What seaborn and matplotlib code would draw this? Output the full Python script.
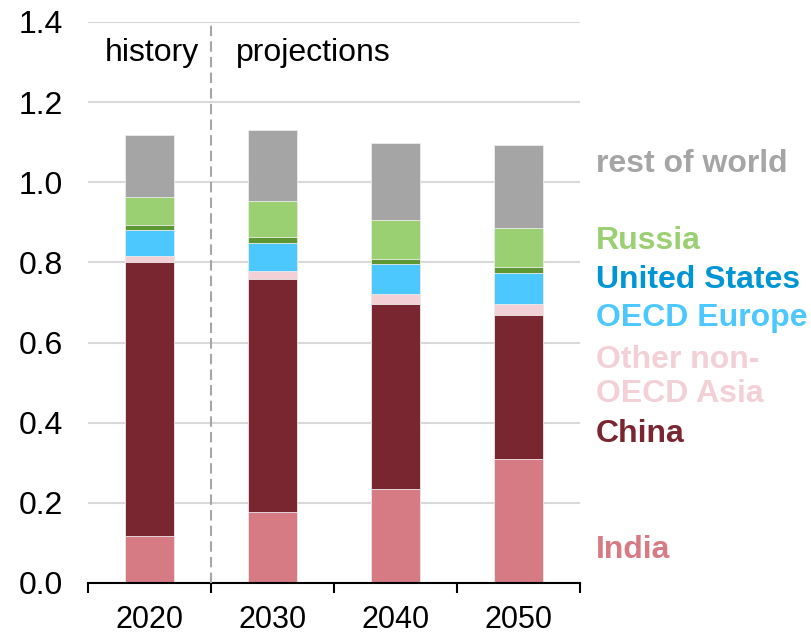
import numpy as np
import pandas as pd
import matplotlib
matplotlib.use("Agg")
import matplotlib.pyplot as plt
import seaborn as sns
from matplotlib.ticker import FixedLocator, FixedFormatter

years = ["2020", "2030", "2040", "2050"]
india = [0.118, 0.176, 0.234, 0.310]
china = [0.682, 0.583, 0.463, 0.358]
other_asia = [0.016, 0.019, 0.023, 0.029]
oecd_europe = [0.064, 0.071, 0.075, 0.077]
united_states = [0.014, 0.014, 0.013, 0.014]
russia = [0.070, 0.089, 0.097, 0.098]
rest_of_world = [0.155, 0.178, 0.193, 0.207]

series_names = ["India", "China", "Other non-OECD Asia", "OECD Europe",
                "United States", "Russia", "rest of world"]
series_vals = [india, china, other_asia, oecd_europe, united_states, russia, rest_of_world]
bar_colors = ["#D67A83", "#7A2631", "#F2D0D5", "#4DC8FF", "#5D9732", "#9BD072", "#A5A5A5"]
label_colors = ["#D67A83", "#7A2631", "#F2D0D5", "#4DC8FF", "#0096D6", "#9BD072", "#A5A5A5"]
label_texts = ["India", "China", "Other non-\nOECD Asia", "OECD Europe",
               "United States", "Russia", "rest of world"]
label_y = [0.0835, 0.371, 0.513, 0.661, 0.756, 0.8535, 1.046]
yticks = [0.0, 0.2, 0.4, 0.6, 0.8, 1.0, 1.2, 1.4]

sns.set_theme(style="white")
plt.rcParams["font.family"] = ["Liberation Sans", "DejaVu Sans"]
plt.rcParams["text.color"] = "black"
plt.rcParams["xtick.color"] = "black"
plt.rcParams["ytick.color"] = "black"

fig = plt.figure(figsize=(8.11, 6.35), dpi=100)
ax = fig.add_axes([0.1085, 0.0819, 0.6065, 0.8835])

cum = np.cumsum(np.array(series_vals), axis=0)
rows = []
for name, c in zip(series_names, cum):
    for y, v in zip(years, c):
        rows.append({"series": name, "year": y, "top": v})
df = pd.DataFrame(rows)

for i in range(len(series_names) - 1, -1, -1):
    sub = df[df["series"] == series_names[i]]
    sns.barplot(data=sub, x="year", y="top", order=years, color=bar_colors[i],
                width=0.4, saturation=1, edgecolor="#ececec", linewidth=0.6, ax=ax)

ax.set_ylim(0, 1.4)
ax.set_xlim(-0.5, 3.5)
ax.set_yticks(yticks)
ax.set_yticklabels([f"{t:.1f}" for t in yticks], fontsize=23, color="black")
ax.yaxis.grid(True, color="#d9d9d9", linewidth=1.5)
ax.set_axisbelow(True)
ax.tick_params(axis="y", length=0, pad=18)

ax.xaxis.set_major_locator(FixedLocator([-0.5, 0.5, 1.5, 2.5, 3.5]))
ax.xaxis.set_major_formatter(FixedFormatter(["", "", "", "", ""]))
ax.xaxis.set_minor_locator(FixedLocator([0, 1, 2, 3]))
ax.xaxis.set_minor_formatter(FixedFormatter(years))
ax.tick_params(axis="x", which="major", length=7.5, width=1.5, color="black", direction="out", bottom=True)
ax.tick_params(axis="x", which="minor", length=0, pad=16, labelsize=22, labelcolor="black")
ax.set_xlabel("")
ax.set_ylabel("")

for s in ["left", "right", "top"]:
    ax.spines[s].set_visible(False)
ax.spines["bottom"].set_color("black")
ax.spines["bottom"].set_linewidth(1.5)

ax.axvline(0.5, color="#a6a6a6", linestyle=(0, (5, 2.5)), linewidth=1.5, zorder=3)
ax.text(0.016, 1.322, "history", ha="center", va="center", fontsize=23, color="black")
ax.text(1.33, 1.322, "projections", ha="center", va="center", fontsize=23, color="black")

for txt, col, yv in zip(label_texts, label_colors, label_y):
    ax.text(3.63, yv, txt, ha="left", va="center", fontsize=23, fontweight="bold",
            color=col, linespacing=1.17, clip_on=False)

fig.savefig("out.png", dpi=100)
